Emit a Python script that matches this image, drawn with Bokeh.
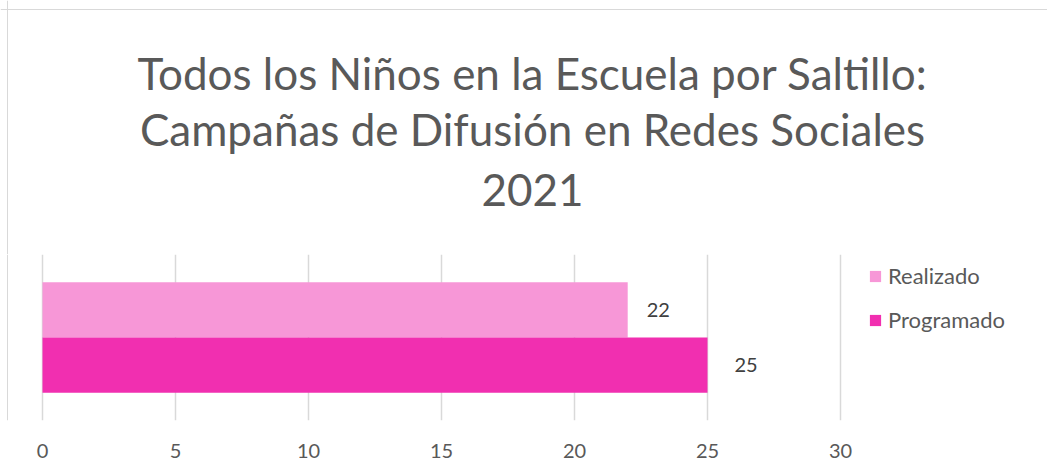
from bokeh.plotting import figure
from bokeh.layouts import column
from bokeh.models import ColumnDataSource, Legend, LegendItem, Range1d, FixedTicker, Label, Span
from bokeh.transform import dodge
from bokeh.embed import file_html
from bokeh.resources import INLINE
from bokeh.core.properties import value

title_lines = ["Todos los Niños en la Escuela por Saltillo:",
               "Campañas de Difusión en Redes Sociales",
               "2021"]
category = ["2021"]
series = ["Realizado", "Programado"]
realizado = [22]
programado = [25]
colors = ["#F797D7", "#F12FB0"]
x_ticks = [0, 5, 10, 15, 20, 25, 30]

FONT = "Lato"
W = 1047
TITLE_H = 254
CHART_H = 476 - TITLE_H
PX0, PX30 = 42, 840            # pixel positions of 0 and 30 on the value axis
PPU = (PX30 - PX0) / 30.0      # pixels per unit
BORDER = "#D9D9D9"

# ---------- title panel ----------
t = figure(width=W, height=TITLE_H, output_backend="svg", toolbar_location=None,
           x_range=Range1d(0, W), y_range=Range1d(0, TITLE_H), min_border=0)
t.axis.visible = False
t.grid.grid_line_color = None
t.outline_line_color = None
t.background_fill_color = "white"
t.border_fill_color = "white"
baselines = [72, 128, 189]
for line, b in zip(title_lines, baselines):
    t.add_layout(Label(x=532, y=TITLE_H - b, text=line, text_align="center",
                       text_baseline="alphabetic", text_font=FONT, text_font_size="44px",
                       text_color="#595959"))
t.add_layout(Span(location=7, dimension="height", line_color=BORDER, line_width=1))
t.add_layout(Span(location=TITLE_H - 9, dimension="width", line_color=BORDER, line_width=1))

# ---------- bar chart ----------
p = figure(width=W, height=CHART_H, output_backend="svg", toolbar_location=None,
           y_range=category, x_range=Range1d(-PX0 / PPU, (W - PX0) / PPU),
           min_border_left=0, min_border_right=0, min_border_top=0, min_border_bottom=56)
p.outline_line_color = None
p.background_fill_color = "white"
p.border_fill_color = "white"

src = ColumnDataSource(dict(cat=category, realizado=realizado, programado=programado,
                            lr=[str(v) for v in realizado], lp=[str(v) for v in programado]))

r1 = p.hbar(y=dodge("cat", 0.1665, range=p.y_range), right="realizado", left=0, height=0.333,
            source=src, color=colors[0], line_color=None)
r2 = p.hbar(y=dodge("cat", -0.1665, range=p.y_range), right="programado", left=0, height=0.333,
            source=src, color=colors[1], line_color=None)

p.text(x="realizado", y=dodge("cat", 0.1665, range=p.y_range), text="lr", source=src,
       x_offset=19, text_baseline="middle", text_align="left", text_font=value(FONT),
       text_font_size="20px", text_color="#404040")
p.text(x="programado", y=dodge("cat", -0.1665, range=p.y_range), text="lp", source=src,
       x_offset=27, text_baseline="middle", text_align="left", text_font=value(FONT),
       text_font_size="20px", text_color="#404040")

p.yaxis.visible = False
p.ygrid.grid_line_color = None
p.xgrid.grid_line_color = BORDER
p.xgrid.grid_line_width = 1.5
p.xaxis.ticker = FixedTicker(ticks=x_ticks)
p.xaxis.axis_line_color = None
p.xaxis.major_tick_line_color = None
p.xaxis.minor_tick_line_color = None
p.xaxis.major_label_text_font = FONT
p.xaxis.major_label_text_font_size = "20px"
p.xaxis.major_label_text_color = "#595959"
p.xaxis.major_label_standoff = 17

p.add_layout(Span(location=(7 - PX0) / PPU, dimension="height", line_color=BORDER, line_width=1))

legend = Legend(items=[LegendItem(label=series[0], renderers=[r1]),
                       LegendItem(label=series[1], renderers=[r2])],
                location=(868, 87), orientation="vertical",
                background_fill_alpha=0, border_line_color=None,
                glyph_width=14, glyph_height=14, label_text_font=FONT,
                label_text_font_size="22px", label_text_color="#595959",
                padding=0, margin=0, spacing=17, label_standoff=6)
p.add_layout(legend)

layout = column(t, p, spacing=0)
open("out.html", "w").write(file_html(layout, INLINE))
